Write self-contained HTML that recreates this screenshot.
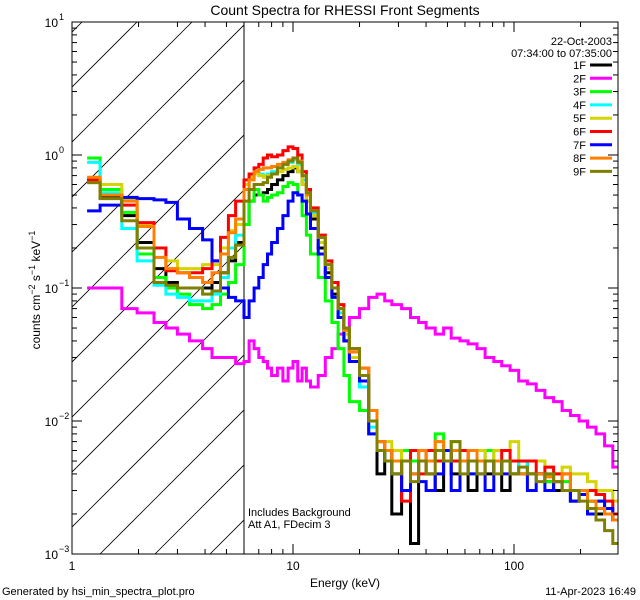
<!DOCTYPE html>
<html><head><meta charset="utf-8"><style>
html,body{margin:0;padding:0;background:#fff;}
svg{display:block;font-family:"Liberation Sans",sans-serif;}
</style></head><body>
<svg id="chart" width="640" height="600" viewBox="0 0 640 600" xmlns="http://www.w3.org/2000/svg">
<defs><clipPath id="pc"><rect x="72" y="22" width="546" height="532"/></clipPath>
<clipPath id="hc"><rect x="72" y="22" width="172" height="532"/></clipPath></defs>
<rect x="0" y="0" width="640" height="600" fill="#fff"/>
<text x="345" y="15" font-size="14" text-anchor="middle">Count Spectra for RHESSI Front Segments</text>
<g id="hatch" clip-path="url(#hc)"></g>
<line x1="244" y1="22" x2="244" y2="554" stroke="#000" stroke-width="1"/>
<g id="series" clip-path="url(#pc)"></g>
<rect x="72" y="22" width="546" height="532" fill="none" stroke="#000" stroke-width="1"/>
<g id="axes"></g>
<text transform="translate(40,290) rotate(-90)" font-size="12" text-anchor="middle">counts cm<tspan dy="-5" font-size="9">−2</tspan><tspan dy="5"> s</tspan><tspan dy="-5" font-size="9">−1</tspan><tspan dy="5"> keV</tspan><tspan dy="-5" font-size="9">−1</tspan></text>
<text x="345" y="587" font-size="12" text-anchor="middle">Energy (keV)</text>
<text x="2" y="595" font-size="11">Generated by hsi_min_spectra_plot.pro</text>
<text x="636" y="595" font-size="11" text-anchor="end">11-Apr-2023 16:49</text>
<text x="248" y="516" font-size="11">Includes Background</text>
<text x="248" y="528" font-size="11">Att A1, FDecim 3</text>
<text x="612" y="45" font-size="11" text-anchor="end">22-Oct-2003</text>
<text x="612" y="57" font-size="11" text-anchor="end">07:34:00 to 07:35:00</text>
<g id="legend"></g>
</svg>
<script>
const NS="http://www.w3.org/2000/svg";
const edges=[1.17,1.34,1.68,1.97,2.35,2.66,3.0,3.4,3.9,4.3,4.7,5.1,5.5,6.0,
6.33,6.67,7,7.33,7.67,8,8.5,9,9.5,10,10.5,11,11.5,12,13,14,15,16,17,18,20,
22,24,26,28,31,34,37,40,44,48,52,57,62,68,74,81,88,96,105,115,126,138,151,165,180,197,215,235,257,280,295];
const seriesNames=["1F","2F","3F","4F","5F","6F","7F","8F","9F"];
const seriesColors=["#000000","#ff00ff","#00ff00","#00ffff","#d4d400","#ff0000","#0000ff","#ff8000","#808000"];
const s1F=[0.65,0.48,0.35,0.22,0.14,0.11,0.1,0.1,0.1,0.11,0.13,0.16,0.22,
0.3,0.45,0.5,0.5,0.52,0.55,0.6,0.65,0.7,0.75,0.8,0.75,0.6,0.45,0.33,0.2,0.13,0.09,0.06,0.04,0.028,
0.02,0.01,0.004,0.006,0.002,0.005,0.0012,0.005,0.004,0.003,0.005,0.004,0.006,0.003,0.005,0.004,0.005,0.003,0.005,0.005,0.004,0.004,0.0035,0.003,0.003,0.0025,0.003,0.0025,0.002,0.002,0.0018];
const s2F=[0.1,0.1,0.07,0.065,0.055,0.05,0.045,0.04,0.035,0.03,0.03,0.03,0.027,
0.028,0.04,0.035,0.03,0.028,0.025,0.022,0.025,0.02,0.025,0.028,0.02,0.025,0.02,0.018,0.022,0.03,0.035,0.045,0.05,0.06,
0.07,0.085,0.09,0.08,0.075,0.07,0.06,0.055,0.05,0.045,0.05,0.042,0.04,0.038,0.035,0.03,0.028,0.026,0.024,0.02,0.019,0.017,0.015,0.014,0.012,0.011,0.01,0.009,0.008,0.0065,0.0045];
const s3F=[0.95,0.55,0.37,0.18,0.12,0.1,0.09,0.075,0.07,0.075,0.09,0.11,0.15,
0.3,0.45,0.55,0.5,0.45,0.48,0.5,0.52,0.58,0.62,0.6,0.5,0.35,0.25,0.18,0.12,0.08,0.055,0.035,0.022,0.014,
0.012,0.008,0.006,0.005,0.005,0.006,0.005,0.006,0.005,0.008,0.006,0.007,0.005,0.006,0.005,0.006,0.005,0.005,0.005,0.004,0.004,0.004,0.0035,0.004,0.0035,0.003,0.003,0.0025,0.0025,0.002,0.002];
const s4F=[0.88,0.52,0.28,0.16,0.105,0.09,0.085,0.08,0.08,0.09,0.12,0.2,0.25,
0.6,0.7,0.75,0.72,0.7,0.72,0.75,0.8,0.85,0.88,0.92,0.85,0.65,0.5,0.36,0.22,0.14,0.1,0.065,0.045,0.03,
0.018,0.009,0.007,0.005,0.004,0.005,0.004,0.005,0.005,0.005,0.006,0.005,0.005,0.004,0.006,0.005,0.005,0.005,0.004,0.005,0.004,0.004,0.004,0.0035,0.003,0.003,0.003,0.0025,0.0025,0.002,0.002];
const s5F=[0.62,0.6,0.47,0.3,0.2,0.16,0.14,0.14,0.15,0.15,0.2,0.27,0.3,
0.6,0.68,0.72,0.7,0.68,0.7,0.72,0.75,0.78,0.8,0.82,0.75,0.6,0.45,0.35,0.22,0.14,0.1,0.07,0.045,0.03,
0.02,0.01,0.007,0.007,0.006,0.005,0.006,0.005,0.006,0.007,0.006,0.006,0.005,0.006,0.006,0.005,0.006,0.006,0.007,0.005,0.005,0.005,0.0045,0.004,0.0045,0.004,0.004,0.0035,0.003,0.003,0.0025];
const s6F=[0.65,0.5,0.42,0.31,0.2,0.135,0.13,0.13,0.14,0.16,0.24,0.35,0.45,
0.65,0.72,0.8,0.85,0.95,1.0,0.97,1.0,1.08,1.15,1.12,1.0,0.75,0.55,0.4,0.25,0.16,0.11,0.075,0.05,0.035,
0.025,0.012,0.007,0.006,0.005,0.0025,0.006,0.004,0.006,0.005,0.006,0.005,0.006,0.005,0.005,0.005,0.005,0.006,0.005,0.005,0.005,0.004,0.0045,0.004,0.004,0.003,0.003,0.003,0.0028,0.0025,0.002];
const s7F=[0.38,0.42,0.48,0.47,0.46,0.44,0.33,0.28,0.23,0.16,0.1,0.085,0.08,
0.06,0.08,0.1,0.12,0.15,0.18,0.22,0.28,0.35,0.45,0.52,0.5,0.45,0.36,0.28,0.18,0.12,0.085,0.06,0.04,0.028,
0.02,0.008,0.006,0.005,0.004,0.003,0.004,0.0035,0.003,0.004,0.006,0.003,0.005,0.004,0.004,0.003,0.005,0.004,0.004,0.004,0.003,0.004,0.003,0.0035,0.003,0.0025,0.0028,0.002,0.0025,0.0022,0.0018];
const s8F=[0.68,0.5,0.45,0.29,0.17,0.14,0.13,0.12,0.11,0.13,0.18,0.26,0.33,
0.55,0.65,0.75,0.78,0.8,0.8,0.82,0.85,0.88,0.92,0.95,0.9,0.7,0.5,0.38,0.24,0.15,0.1,0.07,0.048,0.033,
0.025,0.012,0.007,0.006,0.005,0.005,0.004,0.006,0.005,0.007,0.005,0.006,0.005,0.006,0.005,0.005,0.005,0.005,0.004,0.004,0.004,0.004,0.0038,0.0035,0.004,0.003,0.003,0.0025,0.0022,0.002,0.0018];
const s9F=[0.62,0.47,0.32,0.2,0.11,0.105,0.1,0.1,0.09,0.095,0.13,0.17,0.21,
0.45,0.55,0.6,0.6,0.62,0.68,0.72,0.8,0.85,0.9,0.95,0.88,0.7,0.52,0.38,0.24,0.15,0.1,0.07,0.05,0.035,
0.022,0.01,0.006,0.005,0.004,0.005,0.0035,0.005,0.004,0.006,0.005,0.007,0.004,0.005,0.004,0.005,0.004,0.005,0.004,0.0045,0.004,0.0035,0.004,0.0035,0.003,0.003,0.0025,0.0022,0.0018,0.0015,0.0012];
const allSeries=[s1F,s2F,s3F,s4F,s5F,s6F,s7F,s8F,s9F];
const yTickExps=[-3,-2,-1,0,1];
const xTickLabels=["1","10","100"];

const X0=72,X1=618,Y0=554,Y1=22;
const xScale=e=>X0+Math.log10(e)*221;
const yScale=v=>Y1+(1-Math.log10(v))*133;
const svg=document.getElementById('chart');
function mk(tag,attrs,parent){const el=document.createElementNS(NS,tag);for(const k in attrs)el.setAttribute(k,attrs[k]);parent.appendChild(el);return el;}

// hatch
const hatch=document.getElementById('hatch');
for(let i=-2;i<16;i++){
  const x=82+i*55;
  const l=mk('line',{x1:x,y1:22,x2:x-600,y2:622,stroke:'#000','stroke-width':0.8},hatch);
  
  
}

// series
const sg=document.getElementById('series');
allSeries.forEach((vals,si)=>{
  let d='';
  vals.forEach((v,i)=>{
    const xa=xScale(edges[i]).toFixed(1),xb=xScale(edges[i+1]).toFixed(1),y=yScale(v).toFixed(1);
    d+=(i===0?'M':'L')+xa+','+y+'L'+xb+','+y;
  });
  const p=mk('path',{d:d,fill:'none',stroke:seriesColors[si],'stroke-width':3,'stroke-linejoin':'miter'},sg);
  
  
});

// axes
const ax=document.getElementById('axes');
yTickExps.forEach((ex)=>{
  const y=yScale(Math.pow(10,ex));
  mk('line',{x1:X0,y1:y,x2:X0+10,y2:y,stroke:'#000'},ax);
  mk('line',{x1:X1,y1:y,x2:X1-10,y2:y,stroke:'#000'},ax);
  const t=mk('text',{x:X0-14,y:y+5,'font-size':12,'text-anchor':'end'},ax);
  
  
  t.textContent='10';
  const s=mk('text',{x:X0-13,y:y-2,'font-size':9},ax);
  
  
  s.textContent=String(ex).replace('-','−');
  if(ex<1){for(let m=2;m<10;m++){const yy=yScale(m*Math.pow(10,ex));
    mk('line',{x1:X0,y1:yy,x2:X0+5,y2:yy,stroke:'#000'},ax);
    mk('line',{x1:X1,y1:yy,x2:X1-5,y2:yy,stroke:'#000'},ax);}}
});
xTickLabels.forEach((lab,i)=>{
  const x=xScale(Math.pow(10,i));
  mk('line',{x1:x,y1:Y0,x2:x,y2:Y0-10,stroke:'#000'},ax);
  mk('line',{x1:x,y1:Y1,x2:x,y2:Y1+10,stroke:'#000'},ax);
  const t=mk('text',{x:x,y:Y0+16,'font-size':12,'text-anchor':'middle'},ax);
  
  
  t.textContent=lab;
  for(let m=2;m<10;m++){const xx=xScale(m*Math.pow(10,i)); if(xx>X1)break;
    mk('line',{x1:xx,y1:Y0,x2:xx,y2:Y0-5,stroke:'#000'},ax);
    mk('line',{x1:xx,y1:Y1,x2:xx,y2:Y1+5,stroke:'#000'},ax);}
});

// legend
const lg=document.getElementById('legend');
seriesNames.forEach((n,i)=>{
  const y=65+i*13.3;
  const t=mk('text',{x:586,y:y+4,'font-size':11,'text-anchor':'end'},lg);
  
  
  t.textContent=n;
  const l=mk('line',{x1:590,y1:y,x2:612,y2:y,stroke:seriesColors[i],'stroke-width':3},lg);
  
  
});
</script>
</body></html>
